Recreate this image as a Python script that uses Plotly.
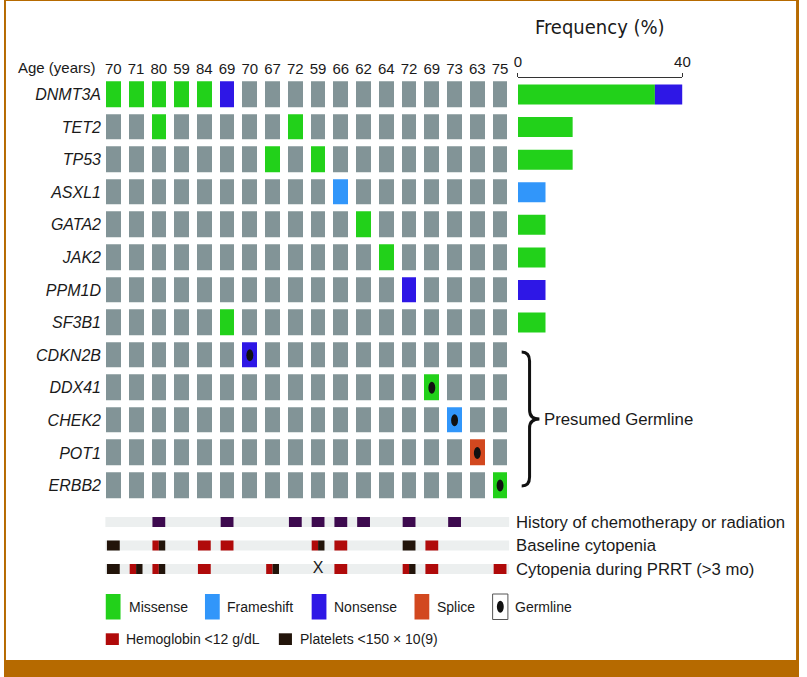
import plotly.graph_objects as go

W, H = 807, 677

# ---------------- data ----------------
genes = ["DNMT3A", "TET2", "TP53", "ASXL1", "GATA2", "JAK2", "PPM1D", "SF3B1",
         "CDKN2B", "DDX41", "CHEK2", "POT1", "ERBB2"]
ages = [70, 71, 80, 59, 84, 69, 70, 67, 72, 59, 66, 62, 64, 72, 69, 73, 63, 75]

# (gene, patient column index)
missense = [("DNMT3A", 0), ("DNMT3A", 1), ("DNMT3A", 2), ("DNMT3A", 3), ("DNMT3A", 4),
            ("TET2", 2), ("TET2", 8), ("TP53", 7), ("TP53", 9), ("GATA2", 11),
            ("JAK2", 12), ("SF3B1", 5), ("DDX41", 14), ("ERBB2", 17)]
frameshift = [("ASXL1", 10), ("CHEK2", 15)]
nonsense = [("DNMT3A", 5), ("PPM1D", 13), ("CDKN2B", 6)]
splice = [("POT1", 16)]
germline = [("CDKN2B", 6), ("DDX41", 14), ("CHEK2", 15), ("POT1", 16), ("ERBB2", 17)]

freq_genes = ["DNMT3A", "TET2", "TP53", "ASXL1", "GATA2", "JAK2", "PPM1D", "SF3B1"]
freq_missense = [33.3, 13.3, 13.3, 0, 6.7, 6.7, 0, 6.7]
freq_frameshift = [0, 0, 0, 6.7, 0, 0, 0, 0]
freq_nonsense = [6.7, 0, 0, 0, 0, 0, 6.7, 0]

clin_rows = ["History of chemotherapy or radiation", "Baseline cytopenia",
             "Cytopenia during PRRT (>3 mo)"]
chemo_history = [2, 5, 8, 9, 10, 11, 13, 15]
baseline_hgb = [2, 4, 5, 9, 10, 14]
baseline_plt = [0, 2, 9, 13]
prrt_hgb = [1, 2, 4, 7, 10, 13, 14, 17]
prrt_plt = [0, 1, 2, 7, 13]
prrt_unknown = [9]

# ---------------- styles ----------------
C_WT = "#829497"
C_MIS = "#22D11A"
C_FS = "#3196FA"
C_NON = "#2E17E6"
C_SPL = "#D2481F"
C_CHEMO = "#3D0A4E"
C_HGB = "#B00A0A"
C_PLT = "#22140A"
C_BAND = "#ECEFEF"
TXT = "#1A1A1A"
BORDER = "#B66A00"
FONT = "Liberation Sans, Arial, sans-serif"
NARROW = "DejaVu Sans Condensed, Liberation Sans Narrow, Arial Narrow, " + FONT


def px(x):
    return x / W


def py(y):
    return 1 - y / H


n_cols = len(ages)
n_rows = len(genes)

# ---------------- oncoprint matrix ----------------
z = [[0] * n_cols for _ in genes]
for code, lst in ((1, missense), (2, frameshift), (3, nonsense), (4, splice)):
    for g, c in lst:
        z[genes.index(g)][c] = code

cs = [[0, C_WT], [0.125, C_WT], [0.125, C_MIS], [0.375, C_MIS], [0.375, C_FS],
      [0.625, C_FS], [0.625, C_NON], [0.875, C_NON], [0.875, C_SPL], [1, C_SPL]]

fig = go.Figure()
fig.add_trace(go.Heatmap(z=z, x=list(range(n_cols)), y=list(range(n_rows)),
                         colorscale=cs, zmin=0, zmax=4, showscale=False,
                         xgap=8, ygap=7, hoverinfo="skip",
                         xaxis="x", yaxis="y"))

# ---------------- frequency bars ----------------
fy = [genes.index(g) for g in freq_genes]
base = [0.0] * len(freq_genes)
for vals, col in ((freq_missense, C_MIS), (freq_frameshift, C_FS), (freq_nonsense, C_NON)):
    fig.add_trace(go.Bar(y=fy, x=vals, base=list(base), orientation="h", width=0.614,
                         marker=dict(color=col, line=dict(width=0)),
                         xaxis="x2", yaxis="y", hoverinfo="skip", showlegend=False))
    base = [b + v for b, v in zip(base, vals)]

# ---------------- clinical annotation rows ----------------
fig.add_trace(go.Bar(y=[0, 1, 2], x=[17.75] * 3, base=[-0.35] * 3, orientation="h",
                     width=0.4255, marker=dict(color=C_BAND, line=dict(width=0)),
                     xaxis="x", yaxis="y2", hoverinfo="skip", showlegend=False))

SQ = 0.563
HALF = SQ / 2
BH = 0.4255


def add_squares(row, xs, ws, color):
    if not xs:
        return
    fig.add_trace(go.Bar(x=xs, y=[BH] * len(xs), base=[row - BH / 2] * len(xs), width=ws,
                         marker=dict(color=color, line=dict(width=0)),
                         xaxis="x", yaxis="y2", hoverinfo="skip", showlegend=False))


add_squares(0, chemo_history, [SQ] * len(chemo_history), C_CHEMO)

for row, hgb, plt in ((1, baseline_hgb, baseline_plt), (2, prrt_hgb, prrt_plt)):
    rx, rw, dx, dw = [], [], [], []
    for c in hgb:
        if c in plt:
            rx.append(c - HALF / 2); rw.append(HALF)
        else:
            rx.append(c); rw.append(SQ)
    for c in plt:
        if c in hgb:
            dx.append(c + HALF / 2); dw.append(HALF)
        else:
            dx.append(c); dw.append(SQ)
    add_squares(row, rx, rw, C_HGB)
    add_squares(row, dx, dw, C_PLT)

fig.add_trace(go.Scatter(x=prrt_unknown, y=[2] * len(prrt_unknown), mode="text",
                         text=["X"] * len(prrt_unknown),
                         textfont=dict(size=16, color=TXT, family=FONT),
                         xaxis="x", yaxis="y2", hoverinfo="skip", showlegend=False))

# ---------------- shapes ----------------
shapes = []
for g, c in germline:
    r = genes.index(g)
    shapes.append(dict(type="circle", xref="x", yref="y", x0=c - 0.152, x1=c + 0.152,
                       y0=r - 0.184, y1=r + 0.184, fillcolor="#111111", line=dict(width=0),
                       layer="above"))

# brace for presumed germline
bx0, bx1, bxt = px(525.5), px(533.5), px(543.5)
byt, bym, byb = py(352), py(419), py(486)
d = 9 / H
brace = (f"M {bx0},{byt} Q {bx1},{byt} {bx1},{byt - d} "
         f"L {bx1},{bym + d} Q {bx1},{bym} {bxt},{bym} "
         f"Q {bx1},{bym} {bx1},{bym - d} "
         f"L {bx1},{byb + d} Q {bx1},{byb} {bx0},{byb}")
shapes.append(dict(type="path", xref="paper", yref="paper", path=brace,
                   line=dict(color="#111111", width=3)))

# legend swatches
leg1 = [("Missense", C_MIS, 103.3, 124.5), ("Frameshift", C_FS, 204, 224.3),
        ("Nonsense", C_NON, 312.3, 333.3), ("Splice", C_SPL, 416.7, 437.3)]
annotations = []
for label, col, x0, tx in leg1:
    shapes.append(dict(type="rect", xref="paper", yref="paper", x0=px(x0), x1=px(x0 + 15),
                       y0=py(619.5), y1=py(594), fillcolor=col, line=dict(width=0)))
    annotations.append(dict(x=px(tx), y=py(606.7), xref="paper", yref="paper", text=label,
                            showarrow=False, xanchor="left", yanchor="middle",
                            font=dict(size=14, color=TXT, family=FONT)))
shapes.append(dict(type="rect", xref="paper", yref="paper", x0=px(496), x1=px(511.5),
                   y0=py(619.5), y1=py(594), fillcolor="white",
                   line=dict(color="#555555", width=1)))
shapes.append(dict(type="circle", xref="paper", yref="paper", x0=px(500.3), x1=px(507.3),
                   y0=py(612.7), y1=py(600.7), fillcolor="#111111", line=dict(width=0)))
annotations.append(dict(x=px(516.5), y=py(606.7), xref="paper", yref="paper", text="Germline",
                        showarrow=False, xanchor="left", yanchor="middle",
                        font=dict(size=14, color=TXT, family=FONT)))

leg2 = [("Hemoglobin <12 g/dL", C_HGB, 103.3, 122.3), ("Platelets <150 × 10(9)", C_PLT, 279, 298)]
for label, col, x0, tx in leg2:
    shapes.append(dict(type="rect", xref="paper", yref="paper", x0=px(x0), x1=px(x0 + 13.3),
                       y0=py(645), y1=py(633.3), fillcolor=col, line=dict(width=0)))
    annotations.append(dict(x=px(tx), y=py(639), xref="paper", yref="paper", text=label,
                            showarrow=False, xanchor="left", yanchor="middle",
                            font=dict(size=14, color=TXT, family=FONT)))

# border
shapes += [
    dict(type="rect", xref="paper", yref="paper", x0=0, x1=1, y0=py(660), y1=0,
         fillcolor=BORDER, line=dict(width=0)),
    dict(type="rect", xref="paper", yref="paper", x0=0, x1=px(2), y0=0, y1=1,
         fillcolor=BORDER, line=dict(width=0)),
    dict(type="rect", xref="paper", yref="paper", x0=px(804), x1=1, y0=0, y1=1,
         fillcolor=BORDER, line=dict(width=0)),
    dict(type="rect", xref="paper", yref="paper", x0=0, x1=1, y0=py(1), y1=1,
         fillcolor=BORDER, line=dict(width=0)),
]

# text annotations
annotations.append(dict(x=px(12), y=py(67), xref="paper", yref="paper", text="Age (years)",
                        showarrow=False, xanchor="left", yanchor="middle",
                        font=dict(size=15, color=TXT, family=FONT)))
annotations.append(dict(x=px(605), y=py(27), xref="paper", yref="paper", text="Frequency (%)",
                        showarrow=False, xanchor="center", yanchor="middle",
                        font=dict(size=20, color=TXT, family=NARROW)))
annotations.append(dict(x=px(546), y=py(419), xref="paper", yref="paper", text="Presumed Germline",
                        showarrow=False, xanchor="left", yanchor="middle",
                        font=dict(size=16.8, color=TXT, family=FONT)))
for i, lab in enumerate(clin_rows):
    annotations.append(dict(x=px(518), y=i, xref="paper", yref="y2", text=lab,
                            showarrow=False, xanchor="left", yanchor="middle",
                            font=dict(size=16.7, color=TXT, family=FONT)))

# ---------------- layout ----------------
x_dom = [99.45 / W, 515.1 / W]
y_dom = [py(501.8), py(78.2)]
y2_dom = [py(580.75), py(510.25)]

fig.update_layout(
    width=W, height=H, autosize=False,
    margin=dict(l=0, r=0, t=0, b=0),
    paper_bgcolor="white", plot_bgcolor="white",
    barmode="overlay", showlegend=False,
    font=dict(family=FONT, color=TXT),
    xaxis=dict(domain=x_dom, range=[-0.5, n_cols - 0.5], side="top", anchor="y",
               tickvals=list(range(n_cols)), ticktext=[str(a) for a in ages],
               tickfont=dict(size=15, color=TXT), showgrid=False, zeroline=False,
               showline=False, ticks="", fixedrange=True),
    yaxis=dict(domain=y_dom, range=[n_rows - 0.5, -0.5], anchor="x",
               tickvals=list(range(n_rows)), ticktext=[f"<i>{g}</i>" for g in genes],
               tickfont=dict(size=16, color=TXT), showgrid=False, zeroline=False,
               showline=False, ticks="", fixedrange=True),
    yaxis2=dict(domain=y2_dom, range=[2.5, -0.5], anchor="x", visible=False,
                fixedrange=True),
    xaxis2=dict(domain=[521.7 / W, 688.7 / W], range=[0, 40], anchor="y", side="top",
                tickvals=[0, 40], ticktext=["0", "40"], tickfont=dict(size=15, color=TXT),
                showline=True, linecolor="#333333", linewidth=1, ticks="outside",
                ticklen=4, tickcolor="#333333", showgrid=False, zeroline=False,
                fixedrange=True),
    shapes=shapes,
    annotations=annotations,
)

fig.write_html("out.html", config={"displayModeBar": False},
               post_script="document.body.style.margin='0';document.body.style.padding='0';")
